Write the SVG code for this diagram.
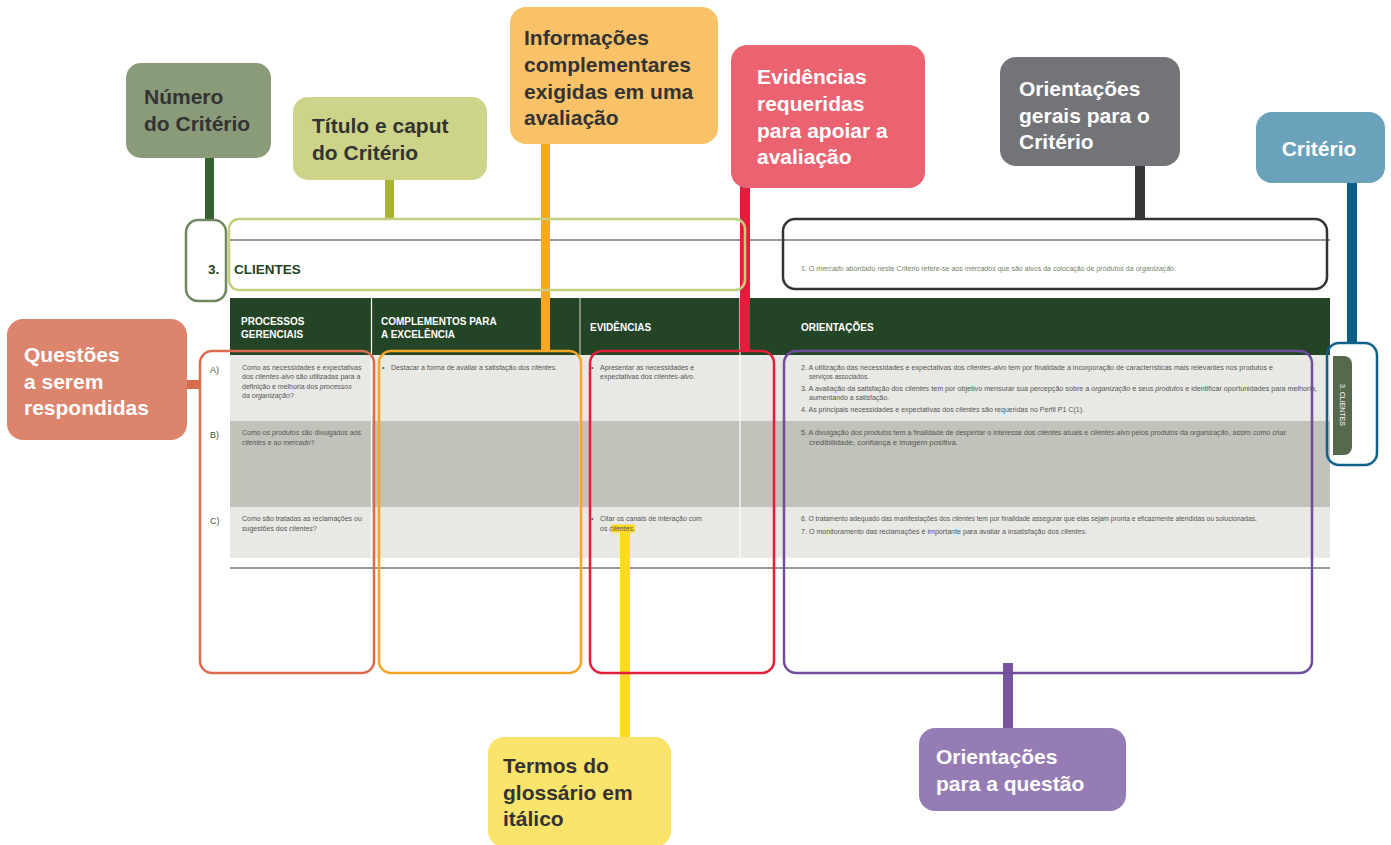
<svg xmlns="http://www.w3.org/2000/svg" width="1391" height="845" viewBox="0 0 1391 845">
<style>
.call{font-family:"Liberation Sans",Arial,sans-serif;font-weight:bold;font-size:21px}
.dk{fill:#333333}
.wt{fill:#ffffff}
.ol{fill:none;stroke-width:2.5}
.hd{font-family:"Liberation Sans",Arial,sans-serif;font-weight:bold;font-size:10px;fill:#ffffff}
.sm{font-family:"Liberation Sans",Arial,sans-serif;font-size:7px;fill:#555555}
.i{font-style:italic}
.lbl{font-family:"Liberation Sans",Arial,sans-serif;font-size:9px;fill:#3d5c3a}
.ttl{font-family:"Liberation Sans",Arial,sans-serif;font-weight:bold;font-size:13.5px;fill:#234425}
.sep{stroke:#ffffff;stroke-width:1.2}
</style>
<rect width="1391" height="845" fill="#ffffff"/>

<!-- table -->
<g id="table">
  <line x1="230" y1="240" x2="1330" y2="240" stroke="#1f3d22" stroke-width="1.2"/>
  <text class="ttl" x="208" y="274">3.</text>
  <text class="ttl" x="234" y="274">CLIENTES</text>
  <text class="sm" x="801" y="271" style="fill:#6f7f62" textLength="375" lengthAdjust="spacingAndGlyphs">1. O <tspan class="i">mercado</tspan> abordado neste Critério refere-se aos <tspan class="i">mercados</tspan> que são alvos da colocação de <tspan class="i">produtos</tspan> da <tspan class="i">organização</tspan>.</text>
  <rect x="230" y="298" width="1100" height="57" fill="#234425"/>
  <rect x="230" y="355" width="1100" height="66" fill="#e8e8e4"/>
  <rect x="230" y="421" width="1100" height="86" fill="#c1c3ba"/>
  <rect x="230" y="507" width="1100" height="51" fill="#e8e8e4"/>
  <line class="sep" x1="371.5" y1="298" x2="371.5" y2="558"/>
  <line class="sep" x1="580" y1="298" x2="580" y2="558" style="stroke-width:0.8"/>
  <line class="sep" x1="740" y1="298" x2="740" y2="558"/>
  <line x1="230" y1="568" x2="1330" y2="568" stroke="#1f3d22" stroke-width="1.2"/>
  <text class="hd" x="241" y="325">PROCESSOS</text>
  <text class="hd" x="241" y="338">GERENCIAIS</text>
  <text class="hd" x="381" y="325">COMPLEMENTOS PARA</text>
  <text class="hd" x="381" y="338">A EXCELÊNCIA</text>
  <text class="hd" x="590" y="331">EVIDÊNCIAS</text>
  <text class="hd" x="801" y="331">ORIENTAÇÕES</text>

  <text class="lbl" x="210" y="373">A)</text>
  <text class="lbl" x="210" y="438">B)</text>
  <text class="lbl" x="210" y="524">C)</text>

  <text class="sm" x="242" y="369.5">Como as necessidades e expectativas</text>
  <text class="sm" x="242" y="379">dos <tspan class="i">clientes-alvo</tspan> são utilizadas para a</text>
  <text class="sm" x="242" y="388.5">definição e melhoria dos <tspan class="i">processos</tspan></text>
  <text class="sm" x="242" y="398">da <tspan class="i">organização</tspan>?</text>

  <text class="sm" x="382" y="369.5">•</text>
  <text class="sm" x="391" y="369.5">Destacar a forma de avaliar a satisfação dos <tspan class="i">clientes</tspan>.</text>

  <text class="sm" x="591" y="369.5">•</text>
  <text class="sm" x="600" y="369.5">Apresentar as necessidades e</text>
  <text class="sm" x="600" y="379">expectativas dos <tspan class="i">clientes-alvo</tspan>.</text>

  <text class="sm" x="801" y="369.5" textLength="472" lengthAdjust="spacingAndGlyphs">2. A utilização das necessidades e expectativas dos <tspan class="i">clientes-alvo</tspan> tem por finalidade a incorporação de características mais relevantes nos produtos e</text>
  <text class="sm" x="809" y="378.5" textLength="60" lengthAdjust="spacingAndGlyphs">serviços associados.</text>
  <text class="sm" x="801" y="391" textLength="516" lengthAdjust="spacingAndGlyphs">3. A avaliação da satisfação dos <tspan class="i">clientes</tspan> tem por objetivo mensurar sua percepção sobre a <tspan class="i">organização</tspan> e seus <tspan class="i">produtos</tspan> e identificar oportunidades para melhoria,</text>
  <text class="sm" x="809" y="400" textLength="80" lengthAdjust="spacingAndGlyphs">aumentando a satisfação.</text>
  <text class="sm" x="801" y="412" textLength="283" lengthAdjust="spacingAndGlyphs">4. As principais necessidades e expectativas dos <tspan class="i">clientes</tspan> são requeridas no Perfil P1 C(1).</text>

  <text class="sm" x="242" y="435">Como os <tspan class="i">produtos</tspan> são divulgados aos</text>
  <text class="sm" x="242" y="444.5"><tspan class="i">clientes</tspan> e ao <tspan class="i">mercado</tspan>?</text>
  <text class="sm" x="801" y="435" textLength="485" lengthAdjust="spacingAndGlyphs">5. A divulgação dos <tspan class="i">produtos</tspan> tem a finalidade de despertar o interesse dos <tspan class="i">clientes</tspan> atuais e <tspan class="i">clientes-alvo</tspan> pelos <tspan class="i">produtos</tspan> da <tspan class="i">organização</tspan>, assim como criar</text>
  <text class="sm" x="809" y="444.5" textLength="149" lengthAdjust="spacingAndGlyphs">credibilidade, confiança e imagem positiva.</text>

  <text class="sm" x="242" y="521">Como são tratadas as reclamações ou</text>
  <text class="sm" x="242" y="530.5">sugestões dos <tspan class="i">clientes</tspan>?</text>
  <rect x="611" y="524.5" width="24" height="8" fill="#fcd924"/>
  <text class="sm" x="591" y="521">•</text>
  <text class="sm" x="600" y="521">Citar os canais de interação com</text>
  <text class="sm" x="600" y="530.5">os <tspan class="i">clientes.</tspan></text>
  <text class="sm" x="801" y="520.5" textLength="456" lengthAdjust="spacingAndGlyphs">6. O tratamento adequado das manifestações dos <tspan class="i">clientes</tspan> tem por finalidade assegurar que elas sejam pronta e eficazmente atendidas ou solucionadas.</text>
  <text class="sm" x="801" y="533.5" textLength="286" lengthAdjust="spacingAndGlyphs">7. O monitoramento das reclamações é importante para avaliar a insatisfação dos <tspan class="i">clientes</tspan>.</text>

  <path d="M1333 356 H1344 A8 8 0 0 1 1352 364 V447 A8 8 0 0 1 1344 455 H1333 Z" fill="#56694c"/>
  <text transform="translate(1339.5,405) rotate(90)" text-anchor="middle" style="font-family:'Liberation Sans',Arial,sans-serif;font-size:7px;fill:#ffffff">3. CLIENTES</text>
</g>

<!-- connectors -->
<g id="connectors">
  <rect x="205" y="149" width="9" height="72" fill="#33612f"/>
  <rect x="385" y="175" width="9" height="44" fill="#a9b432"/>
  <rect x="541" y="138" width="9" height="214" fill="#f6a724"/>
  <rect x="740" y="180" width="10" height="172" fill="#e31e3a"/>
  <rect x="1135" y="148" width="10" height="72" fill="#37373a"/>
  <rect x="1347" y="166" width="10" height="178" fill="#0d5f86"/>
  <rect x="167" y="380" width="33" height="9" fill="#d96b4f"/>
  <rect x="620" y="532" width="10" height="210" fill="#fcd924"/>
  <rect x="1003" y="663" width="10" height="75" fill="#76549f"/>
</g>

<!-- outline boxes -->
<g id="outlines">
  <rect id="box-numero" class="ol" x="186" y="220" width="40" height="81" rx="12" stroke="#6f8862"/>
  <rect id="box-titulo" class="ol" x="229" y="219" width="516" height="71" rx="10" stroke="#c5cd7f"/>
  <rect id="box-orient-gerais" class="ol" x="783" y="219" width="544" height="70" rx="12" stroke="#333333"/>
  <rect id="box-questoes" class="ol" x="200" y="351" width="174" height="322" rx="12" stroke="#d96c4f"/>
  <rect id="box-complementos" class="ol" x="379" y="351" width="202" height="322" rx="12" stroke="#f5a623"/>
  <rect id="box-evidencias" class="ol" x="590" y="351" width="184" height="322" rx="12" stroke="#e21f3a"/>
  <rect id="box-orientacoes" class="ol" x="784" y="351" width="528" height="322" rx="12" stroke="#6f4c9f"/>
  <rect id="box-criterio" class="ol" x="1327" y="343" width="50" height="122" rx="12" stroke="#0e6189"/>
</g>

<!-- callouts -->
<g id="n-numero">
  <rect x="126" y="63" width="145" height="95" rx="15" fill="#8a9b7a"/>
  <text class="call dk" x="144" y="104">Número</text>
  <text class="call dk" x="144" y="131">do Critério</text>
</g>
<g id="n-titulo">
  <rect x="293" y="97" width="194" height="83" rx="15" fill="#cdd388"/>
  <text class="call dk" x="312" y="133">Título e caput</text>
  <text class="call dk" x="312" y="160">do Critério</text>
</g>
<g id="n-informacoes">
  <rect x="510" y="7" width="208" height="137" rx="16" fill="#f9c268"/>
  <text class="call dk" x="524" y="45">Informações</text>
  <text class="call dk" x="524" y="72">complementares</text>
  <text class="call dk" x="524" y="99">exigidas em uma</text>
  <text class="call dk" x="524" y="125">avaliação</text>
</g>
<g id="n-evidencias">
  <rect x="731" y="45" width="194" height="143" rx="16" fill="#eb6271"/>
  <text class="call wt" x="757" y="84">Evidências</text>
  <text class="call wt" x="757" y="111">requeridas</text>
  <text class="call wt" x="757" y="138">para apoiar a</text>
  <text class="call wt" x="757" y="164">avaliação</text>
</g>
<g id="n-orient-gerais">
  <rect x="1000" y="57" width="180" height="109" rx="16" fill="#737477"/>
  <text class="call wt" x="1019" y="96">Orientações</text>
  <text class="call wt" x="1019" y="123">gerais para o</text>
  <text class="call wt" x="1019" y="149">Critério</text>
</g>
<g id="n-criterio">
  <rect x="1256" y="112" width="129" height="71" rx="16" fill="#6aa2bb"/>
  <text class="call wt" x="1319" y="156" text-anchor="middle">Critério</text>
</g>
<g id="n-questoes">
  <rect x="7" y="319" width="180" height="121" rx="16" fill="#dc846c"/>
  <text class="call wt" x="24" y="362">Questões</text>
  <text class="call wt" x="24" y="389">a serem</text>
  <text class="call wt" x="24" y="415">respondidas</text>
</g>
<g id="n-termos">
  <rect x="488" y="737" width="183" height="110" rx="16" fill="#fbe46b"/>
  <text class="call dk" x="503" y="773">Termos do</text>
  <text class="call dk" x="503" y="800">glossário em</text>
  <text class="call dk" x="503" y="826">itálico</text>
</g>
<g id="n-orient-questao">
  <rect x="919" y="728" width="207" height="83" rx="16" fill="#957cb5"/>
  <text class="call wt" x="936" y="764">Orientações</text>
  <text class="call wt" x="936" y="791">para a questão</text>
</g>
</svg>
